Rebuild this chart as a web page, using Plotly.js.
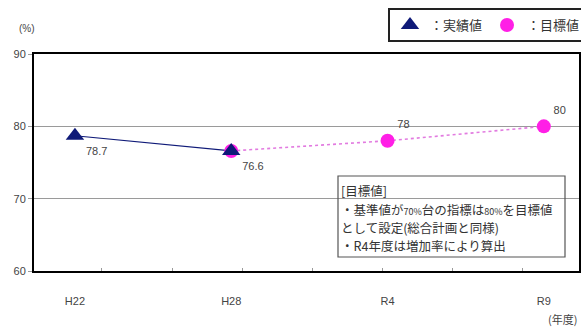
<!DOCTYPE html>
<html>
<head>
<meta charset="utf-8">
<script src="https://cdn.plot.ly/plotly-3.0.1.min.js"></script>
<style>
  html, body { margin: 0; padding: 0; background: #fff; }
  #chart { width: 581px; height: 327px; }
</style>
</head>
<body>
<div id="chart"></div>
<script>
// Fiscal years on the category axis
const years = ['H22', 'H28', 'R4', 'R9'];

// Actual results (%)
const actualYears = ['H22', 'H28'];
const actualValues = [78.7, 76.6];

// Targets (%), starting from the latest actual
const targetYears = ['H28', 'R4', 'R9'];
const targetValues = [76.6, 78, 80];
const targetLabels = ['', '78', '80'];

// Note box lines
const noteLines = [
  '[目標値]',
  '・基準値が<span style="font-size:9px">70%</span>台の指標は<span style="font-size:9px">80%</span>を目標値',
  'として設定(総合計画と同様)',
  '・R4年度は増加率により算出'
];

const W = 581, H = 327;
const M = { l: 34, r: 2, t: 54, b: 56, autoexpand: false };
const plotW = W - M.l - M.r, plotH = H - M.t - M.b;
const px = x => (x - M.l) / plotW;
const py = y => (H - M.b - y) / plotH;

const jp = '"Noto Sans CJK JP", "Liberation Sans", sans-serif';
const num = '"Liberation Sans", Arial, sans-serif';
const navy = '#0f1a78';
const pink = '#ff1fe6';

const traces = [
  {
    // carries the minor tick marks along the bottom edge
    x: [0], y: [60], xaxis: 'x2', type: 'scatter', mode: 'markers',
    marker: { opacity: 0 }, showlegend: false, hoverinfo: 'skip'
  },
  {
    x: actualYears, y: actualValues, type: 'scatter', mode: 'lines',
    line: { color: navy, width: 1.2 }, showlegend: false, hoverinfo: 'skip'
  },
  {
    x: targetYears, y: targetValues, type: 'scatter', mode: 'lines',
    line: { color: '#e27be0', width: 1.6, dash: 'dot' }, showlegend: false, hoverinfo: 'skip'
  },
  {
    x: targetYears, y: targetValues, type: 'scatter', mode: 'markers+text',
    name: '：目標値',
    marker: { symbol: 'circle', size: 14, color: pink },
    text: targetLabels, textposition: 'top right',
    textfont: { family: num, size: 11, color: '#444' }
  },
  {
    x: actualYears, y: actualValues, type: 'scatter', mode: 'markers+text',
    name: '：実績値',
    marker: { symbol: 'triangle-up', size: 16, color: navy },
    text: actualValues.map(v => v.toFixed(1)), textposition: 'bottom right',
    textfont: { family: num, size: 11, color: '#444' }
  }
];

const annotations = [
  {
    xref: 'paper', yref: 'paper', x: px(27), y: py(29), xanchor: 'center', yanchor: 'middle',
    text: '(%)', showarrow: false, font: { family: num, size: 10, color: '#444' }
  },
  {
    xref: 'paper', yref: 'paper', x: px(562), y: py(319), xanchor: 'center', yanchor: 'middle',
    text: '(年度)', showarrow: false, font: { family: jp, size: 11, color: '#444' }
  }
];
const lineY = [190, 209, 227, 245];
noteLines.forEach((t, i) => {
  annotations.push({
    xref: 'paper', yref: 'paper', x: px(339), y: py(lineY[i]), xanchor: 'left', yanchor: 'middle',
    text: t, showarrow: false, font: { family: jp, size: 12.5, color: '#333' }
  });
});

const layout = {
  width: W, height: H,
  margin: M,
  paper_bgcolor: '#fff', plot_bgcolor: '#fff',
  font: { family: num, color: '#444' },
  showlegend: true,
  legend: {
    orientation: 'h', x: px(388), y: py(8), xanchor: 'left', yanchor: 'top',
    bordercolor: '#222', borderwidth: 2, bgcolor: '#fff',
    font: { family: jp, size: 13, color: '#333' },
    traceorder: 'reversed', itemwidth: 30
  },
  xaxis: {
    type: 'category', categoryorder: 'array', categoryarray: years,
    range: [-0.262, 3.225],
    showgrid: false, zeroline: false,
    showline: true, linecolor: '#000', linewidth: 2, mirror: true,
    ticks: '', ticklabelstandoff: 19,
    tickfont: { family: num, size: 11, color: '#444' }
  },
  xaxis2: {
    overlaying: 'x', anchor: 'y', type: 'linear',
    range: [-0.262, 3.225],
    tickmode: 'linear', tick0: 0.173, dtick: 0.448,
    ticks: 'inside', ticklen: 3, tickcolor: '#999', tickwidth: 1,
    showticklabels: false, showgrid: false, zeroline: false, showline: false
  },
  yaxis: {
    range: [60, 90], dtick: 10, tick0: 60,
    showgrid: true, gridcolor: '#9a9a9a', gridwidth: 1,
    zeroline: false,
    showline: true, linecolor: '#000', linewidth: 2, mirror: true,
    ticks: 'outside', ticklen: 4, tickcolor: '#9a9a9a',
    tickfont: { family: num, size: 11, color: '#444' }
  },
  shapes: [
    {
      // white backing for the note box so grid lines stop at its edge
      type: 'rect', xref: 'paper', yref: 'paper', layer: 'between',
      x0: px(338), x1: px(565), y0: py(257), y1: py(176),
      line: { width: 0 }, fillcolor: '#fff'
    },
    {
      type: 'rect', xref: 'paper', yref: 'paper', layer: 'above',
      x0: px(338), x1: px(565), y0: py(257), y1: py(176),
      line: { color: '#555', width: 1.2 }, fillcolor: 'rgba(0,0,0,0)'
    }
  ],
  annotations: annotations
};

Plotly.newPlot('chart', traces, layout, { displayModeBar: false, staticPlot: true });
</script>
</body>
</html>
